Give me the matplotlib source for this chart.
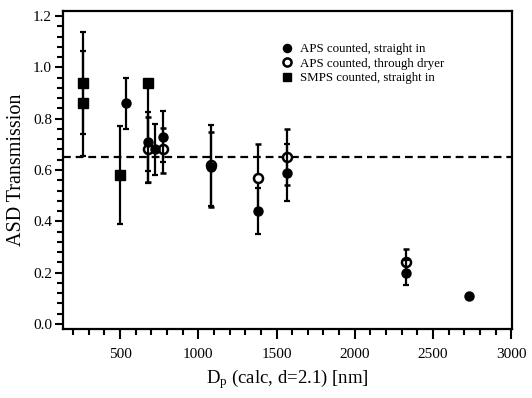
import matplotlib
matplotlib.use("Agg")
import matplotlib.pyplot as plt
from matplotlib.ticker import MultipleLocator
import numpy as np

plt.rcParams['font.family'] = ['Liberation Serif', 'DejaVu Serif']
plt.rcParams['mathtext.fontset'] = 'custom'
plt.rcParams['mathtext.rm'] = 'Liberation Serif'
plt.rcParams['mathtext.it'] = 'Liberation Serif:italic'

# APS counted, straight in (filled circles)
aps_x = [535, 680, 720, 775, 1080, 1380, 1570, 2330, 2730]
aps_y = [0.86, 0.71, 0.68, 0.73, 0.61, 0.44, 0.59, 0.20, 0.11]
aps_err_lo = [0.10, 0.115, 0.10, 0.10, 0.15, 0.09, 0.11, 0.05, 0.0]
aps_err_hi = [0.10, 0.115, 0.10, 0.10, 0.165, 0.09, 0.11, 0.05, 0.0]

# APS counted, through dryer (open circles)
dry_x = [680, 775, 1080, 1380, 1570, 2330]
dry_y = [0.68, 0.68, 0.62, 0.57, 0.65, 0.24]
dry_err_lo = [0.125, 0.09, 0.165, 0.13, 0.11, 0.05]
dry_err_hi = [0.125, 0.085, 0.13, 0.13, 0.11, 0.05]

# SMPS counted, straight in (filled squares)
smps_x = [265, 265, 500, 680]
smps_y = [0.94, 0.86, 0.58, 0.94]
smps_err_lo = [0.20, 0.205, 0.19, 0.39]
smps_err_hi = [0.20, 0.205, 0.19, 0.0]

ref_level = 0.65

fig = plt.figure(figsize=(5.32, 3.98), dpi=100)
ax = fig.add_axes([0.1184, 0.1734, 0.844, 0.799])

eb_kw = dict(ls='none', ecolor='black', elinewidth=1.6, capsize=2.5, capthick=1.6)
ax.errorbar(smps_x, smps_y, yerr=[smps_err_lo, smps_err_hi], marker='s', ms=6.5,
            mfc='black', mec='black', color='black', label='SMPS counted, straight in',
            zorder=3, **eb_kw)
ax.errorbar(dry_x, dry_y, yerr=[dry_err_lo, dry_err_hi], marker='o', ms=6.5,
            mfc='white', mec='black', mew=1.8, color='black',
            label='APS counted, through dryer', zorder=4, **eb_kw)
ax.errorbar(aps_x, aps_y, yerr=[aps_err_lo, aps_err_hi], marker='o', ms=6.5,
            mfc='black', mec='black', color='black', label='APS counted, straight in',
            zorder=5, **eb_kw)

ax.axhline(ref_level, color='black', lw=1.6, ls=(0, (3.5, 2.2)), zorder=2)

ax.set_xlim(135, 3005)
ax.set_ylim(-0.02, 1.22)
ax.xaxis.set_major_locator(MultipleLocator(500))
ax.xaxis.set_minor_locator(MultipleLocator(100))
ax.yaxis.set_major_locator(MultipleLocator(0.2))
ax.yaxis.set_minor_locator(MultipleLocator(0.04))
ax.set_xticks([500, 1000, 1500, 2000, 2500, 3000])
ax.yaxis.set_major_formatter(matplotlib.ticker.FormatStrFormatter('%.1f'))

ax.tick_params(which='both', direction='out', width=1.5, labelsize=11, top=False, right=False)
ax.tick_params(which='major', length=6, pad=2)
ax.tick_params(which='minor', length=4)
ax.tick_params(axis='x', which='major', length=7, pad=7)
for s in ax.spines.values():
    s.set_linewidth(1.6)

ax.set_xlabel(r'D$_\mathregular{p}$ (calc, d=2.1) [nm]', fontsize=13.5, labelpad=4)
ax.set_ylabel('ASD Transmission', fontsize=14.5, labelpad=5)

handles, labels = ax.get_legend_handles_labels()
order = [2, 1, 0]
h = [handles[i][0] for i in order]
l = [labels[i] for i in order]
leg = ax.legend(h, l, loc='upper left', bbox_to_anchor=(0.474, 0.915), frameon=False,
                fontsize=9.3, handlelength=1.0, handletextpad=0.5, labelspacing=0.2,
                markerscale=0.9, borderaxespad=0)

fig.savefig('out.png', dpi=100)
